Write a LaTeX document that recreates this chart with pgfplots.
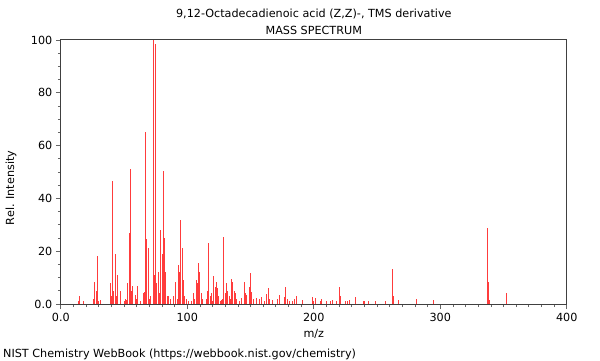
\documentclass[border=0pt]{standalone}
\usepackage{pgfplots}
\pgfplotsset{compat=1.18}
\usepackage{fontspec}
\setmainfont{DejaVu Sans}
\definecolor{barred}{RGB}{255,60,60}
\begin{document}
\begin{tikzpicture}[x=1bp,y=1bp,font=\fontsize{11.2bp}{13bp}\selectfont]
\useasboundingbox (0,0) rectangle (600,360);
\begin{axis}[
  at={(60.8bp,56bp)}, anchor=south west,
  scale only axis, width=506bp, height=264bp,
  xmin=0, xmax=400, ymin=0, ymax=100,
  xtick={0,100,200,300,400}, xticklabels={0.0,100,200,300,400},
  ytick={0,20,40,60,80,100}, yticklabels={0.0,20,40,60,80,100},
  minor x tick num=9, minor y tick num=3,
  tick align=outside, xtick pos=bottom, ytick pos=left,
  major tick length=5bp, minor tick length=3bp,
  tick style={black!60, line width=0.8bp},
  axis line style={black!75, line width=1bp},
  ticklabel style={font=\fontsize{11.2bp}{13bp}\selectfont},
  xticklabel style={yshift=-1bp},
  clip=true,
]
\addplot[ycomb, barred, line width=1bp, mark=none] coordinates {
(14,1) (15,3) (18,1) (26,2) (27,8.5) (28,5) (29,18.2) (30,1) (31,1.5)
(39,7.8) (40,3) (41,46.7) (42,5) (43,19) (44,3) (45,11) (47,5) (50,1) (51,2) (52,1.5)
(53,7.8) (54,26.8) (55,51) (56,5) (57,7) (59,3.4) (60,2) (61,7) (63,1) (65,4) (66,4.5)
(67,65.2) (68,24.5) (69,21.3) (70,2) (71,3) (73,100) (74,11) (75,98.6) (76,8) (77,12)
(78,4) (79,28) (80,19) (81,50.4) (82,25) (83,12) (84,3) (85,3) (87,2) (89,3) (91,8.3)
(92,2) (93,14.8) (94,12) (95,31.8) (96,21.4) (97,9) (98,3) (99,2) (101,1) (103,1)
(105,4.3) (106,2) (107,9) (108,8) (109,15.6) (110,12.2) (111,4) (112,2) (115,2) (116,5)
(117,23.2) (118,3) (119,4) (120,1) (121,10.6) (122,6.6) (123,8.3) (124,6) (125,3)
(126,1) (127,1.5) (128,2) (129,25.5) (130,4) (131,8) (132,5) (133,3) (134,2) (135,9.6)
(136,8.5) (137,5) (138,4) (139,2) (141,1) (143,2.3) (145,8.3) (146,4) (147,3.5)
(149,6.6) (150,11.6) (151,4.5) (152,2) (155,2.4) (157,2) (159,2.5) (161,1) (163,3.8)
(164,5.9) (165,2) (167,1.5) (171,2) (173,3.4) (177,2.5) (178,6.3) (179,2) (181,1)
(183,1) (185,2) (186,3) (191,1.5) (199,2.5) (200,1) (201,2.3) (205,1) (206,2) (210,1)
(213,1) (215,1.5) (218,1) (220,6.3) (221,3) (225,1) (227,1) (228,1.5) (233,2.5)
(239,1) (240,1) (243,1) (249,1) (257,1) (262,13.1) (263,3) (267,1.5) (281,2) (295,1.5)
(337,28.9) (338,8.4) (339,1.5) (352,4.3)
};
\end{axis}
\node[anchor=base] at (313.8,343) {9,12-Octadecadienoic acid (Z,Z)-, TMS derivative};
\node[anchor=base] at (313.8,326) {MASS SPECTRUM};
\node[anchor=base] at (313.8,23) {m/z};
\node[rotate=90, anchor=base] at (14,172) {Rel. Intensity};
\node[anchor=base west, inner sep=0pt] at (3,3) {NIST Chemistry WebBook (https://webbook.nist.gov/chemistry)};
\end{tikzpicture}
\end{document}
